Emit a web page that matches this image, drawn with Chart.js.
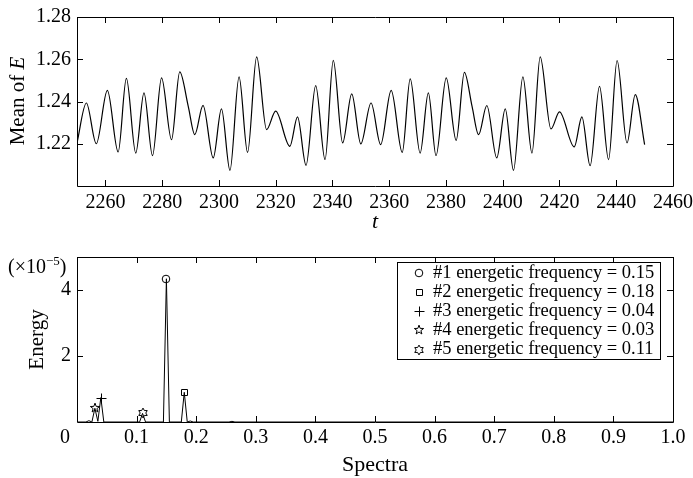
<!DOCTYPE html>
<html>
<head>
<meta charset="utf-8">
<script src="https://cdn.jsdelivr.net/npm/chart.js@4.4.0/dist/chart.umd.min.js"></script>
<style>
  body { margin: 0; background: #fff; }
  #wrap { position: relative; width: 693px; height: 478px; }
  #topChart { position: absolute; left: 0; top: 0; }
  #bottomChart { position: absolute; left: 0; top: 240px; }
</style>
</head>
<body>
<div id="wrap">
  <canvas id="topChart" width="693" height="240"></canvas>
  <canvas id="bottomChart" width="693" height="238"></canvas>
</div>
<script>
'use strict';

// top panel: mean of E over time (peaks / troughs)
let timePts = [2250, 2253.3, 2256.8, 2260.7, 2264.5, 2267.4, 2270.7, 2273.6, 2276.6, 2279.8,
  2283.3, 2286.2, 2289.2, 2291.5, 2294.4, 2298, 2300.9, 2303.9, 2307.1, 2310.1,
  2313.3, 2316.8, 2320, 2325, 2327.7, 2330.7, 2334.1, 2337.4, 2340.3, 2343.6,
  2346.8, 2350, 2353.6, 2357, 2360.7, 2364.6, 2367.4, 2370.9, 2373.8, 2376.5,
  2380.1, 2383.6, 2386.5, 2389.2, 2391.5, 2394.4, 2397.9, 2400.9, 2403.8, 2407.1,
  2410.3, 2413.2, 2417, 2420, 2425.2, 2427.9, 2430.8, 2434.1, 2437.3, 2440.3,
  2443.8, 2446.7, 2450];
let meanE = [1.2204, 1.2393, 1.2200, 1.2453, 1.2161, 1.2509, 1.2156, 1.2441, 1.2144, 1.2512,
  1.2219, 1.2540, 1.2377, 1.2243, 1.2382, 1.2133, 1.2365, 1.2074, 1.2517, 1.2159,
  1.2611, 1.2267, 1.2354, 1.2188, 1.2327, 1.2098, 1.2475, 1.2125, 1.2595, 1.2204,
  1.2436, 1.2199, 1.2393, 1.2196, 1.2453, 1.2159, 1.2507, 1.2156, 1.2441, 1.2144,
  1.2512, 1.2216, 1.2538, 1.2377, 1.2243, 1.2381, 1.2133, 1.2365, 1.2074, 1.2517,
  1.2156, 1.2611, 1.2270, 1.2351, 1.2185, 1.2327, 1.2096, 1.2472, 1.2125, 1.2594,
  1.2204, 1.2433, 1.2196];
let topXTicks = [2260, 2280, 2300, 2320, 2340, 2360, 2380, 2400, 2420, 2440, 2460];
let topYTicks = [1.22, 1.24, 1.26, 1.28];

// bottom panel: energy spectrum (x1e-5)
let specFreq = [0, 0.015, 0.02, 0.025, 0.03, 0.035, 0.04, 0.045, 0.105, 0.11, 0.115,
  0.145, 0.15, 0.155, 0.175, 0.18, 0.185, 0.19, 0.195, 0.255, 0.26, 0.265, 1];
let specEnergy = [0, 0, 0.04, 0, 0.415, 0.02, 0.74, 0, 0, 0.26, 0,
  0, 4.34, 0, 0, 0.9, 0, 0.03, 0, 0, 0.02, 0, 0];
let peakFreq = [0.15, 0.18, 0.04, 0.03, 0.11];
let peakEnergy = [4.34, 0.9, 0.74, 0.415, 0.26];
let peakMarkers = ['circle', 'square', 'plus', 'star5', 'star6'];
let peakLabels = ['#1 energetic frequency = 0.15', '#2 energetic frequency = 0.18',
  '#3 energetic frequency = 0.04', '#4 energetic frequency = 0.03',
  '#5 energetic frequency = 0.11'];
let botXTicks = [0, 0.1, 0.2, 0.3, 0.4, 0.5, 0.6, 0.7, 0.8, 0.9, 1.0];
let botYTicks = [2, 4];

let serif = 'Liberation Serif';
Chart.defaults.font.family = serif;
Chart.defaults.color = '#000';

function makeMarker(kind) {
  let c = document.createElement('canvas');
  c.width = 14;
  c.height = 14;
  let g = c.getContext('2d');
  g.strokeStyle = '#000';
  g.lineWidth = 1;
  g.beginPath();
  if (kind === 'circle') {
    g.arc(7, 7, 3.8, 0, Math.PI * 2);
  } else if (kind === 'square') {
    g.rect(4.5, 4.5, 6, 6);
  } else if (kind === 'plus') {
    g.moveTo(7.5, 2.5); g.lineTo(7.5, 12.5);
    g.moveTo(2.5, 7.5); g.lineTo(12.5, 7.5);
  } else {
    let n = kind === 'star5' ? 5 : 6;
    let inner = kind === 'star5' ? 2 : 2.8;
    for (let i = 0; i < n * 2; i++) {
      let r = i % 2 ? inner : 4.9;
      let a = -Math.PI / 2 + i * Math.PI / n;
      let px = 7 + r * Math.cos(a), py = 7 + r * Math.sin(a);
      if (i === 0) g.moveTo(px, py); else g.lineTo(px, py);
    }
    g.closePath();
  }
  g.stroke();
  return c;
}
let markerImgs = peakMarkers.map(makeMarker);

function noPad(s) {
  s.paddingLeft = 0; s.paddingRight = 0; s.paddingTop = 0; s.paddingBottom = 0;
}

// box + inward ticks on all four sides, like matlab "box on"
function drawFrame(chart, len) {
  let ctx = chart.ctx;
  let a = chart.chartArea;
  let xs = chart.scales.x, ys = chart.scales.y;
  ctx.save();
  ctx.strokeStyle = '#000';
  ctx.lineWidth = 1;
  ctx.beginPath();
  xs.ticks.forEach(function (t) {
    let px = Math.round(xs.getPixelForValue(t.value)) + 0.5;
    ctx.moveTo(px, a.bottom); ctx.lineTo(px, a.bottom - len);
    ctx.moveTo(px, a.top); ctx.lineTo(px, a.top + len);
  });
  ys.ticks.forEach(function (t) {
    let py = Math.round(ys.getPixelForValue(t.value)) + 0.5;
    ctx.moveTo(a.left, py); ctx.lineTo(a.left + len, py);
    ctx.moveTo(a.right, py); ctx.lineTo(a.right - len, py);
  });
  ctx.rect(Math.round(a.left) + 0.5, Math.round(a.top) + 0.5,
    Math.round(a.right - a.left), Math.round(a.bottom - a.top));
  ctx.stroke();
  ctx.restore();
}

let topChart = new Chart(document.getElementById('topChart'), {
  type: 'line',
  data: {
    datasets: [{
      data: timePts.map(function (t, i) { return { x: t, y: meanE[i] }; }),
      borderColor: '#000',
      borderWidth: 1.2,
      pointRadius: 0,
      cubicInterpolationMode: 'monotone',
      fill: false
    }]
  },
  options: {
    responsive: false,
    animation: false,
    devicePixelRatio: 1,
    layout: { padding: { top: 17, right: 20, left: 0, bottom: 0 } },
    plugins: { legend: { display: false }, tooltip: { enabled: false } },
    scales: {
      x: {
        type: 'linear', min: 2250, max: 2460,
        afterBuildTicks: function (s) { s.ticks = topXTicks.map(function (v) { return { value: v }; }); },
        afterFit: function (s) { s.height = 54; noPad(s); },
        grid: { display: false, drawTicks: false },
        border: { display: false },
        ticks: { font: { size: 20 }, padding: 5, maxRotation: 0, autoSkip: false,
          callback: function (v) { return String(v); } },
        title: { display: true, text: 't', font: { size: 22, style: 'italic', lineHeight: 1.2 },
          padding: { top: 0, bottom: 5 } }
      },
      y: {
        min: 1.2, max: 1.28,
        afterBuildTicks: function (s) { s.ticks = topYTicks.map(function (v) { return { value: v }; }); },
        afterFit: function (s) { s.width = 77; noPad(s); },
        grid: { display: false, drawTicks: false },
        border: { display: false },
        ticks: { font: { size: 20 }, padding: 6, callback: function (v) { return v.toFixed(2); } }
      }
    }
  },
  plugins: [{
    id: 'topFrame',
    afterDraw: function (chart) {
      drawFrame(chart, 6);
      let ctx = chart.ctx;
      ctx.save();
      ctx.fillStyle = '#000';
      ctx.translate(18, 101);
      ctx.rotate(-Math.PI / 2);
      ctx.textBaseline = 'middle';
      ctx.font = '21px ' + serif;
      let w1 = ctx.measureText('Mean of ').width;
      ctx.font = 'italic 21px ' + serif;
      let w2 = ctx.measureText('E').width;
      ctx.font = '21px ' + serif;
      ctx.fillText('Mean of ', -(w1 + w2) / 2, 0);
      ctx.font = 'italic 21px ' + serif;
      ctx.fillText('E', -(w1 + w2) / 2 + w1, 0);
      ctx.restore();
    }
  }]
});

let markerSets = peakFreq.map(function (f, i) {
  return {
    data: [{ x: f, y: peakEnergy[i] }],
    showLine: false,
    pointStyle: markerImgs[i],
    pointRadius: 7
  };
});

let bottomChart = new Chart(document.getElementById('bottomChart'), {
  type: 'line',
  data: {
    datasets: [{
      data: specFreq.map(function (f, i) { return { x: f, y: specEnergy[i] }; }),
      borderColor: '#000',
      borderWidth: 1,
      pointRadius: 0,
      tension: 0,
      fill: false
    }].concat(markerSets)
  },
  options: {
    responsive: false,
    animation: false,
    devicePixelRatio: 1,
    layout: { padding: { top: 17, right: 20, left: 0, bottom: 0 } },
    plugins: { legend: { display: false }, tooltip: { enabled: false } },
    scales: {
      x: {
        type: 'linear', min: 0, max: 1,
        afterBuildTicks: function (s) { s.ticks = botXTicks.map(function (v) { return { value: v }; }); },
        afterFit: function (s) { s.height = 56; noPad(s); },
        grid: { display: false, drawTicks: false },
        border: { display: false },
        ticks: { font: { size: 20 }, padding: 4, maxRotation: 0, autoSkip: false,
          callback: function (v) { return v === 0 ? '' : v.toFixed(1); } },
        title: { display: true, text: 'Spectra', font: { size: 22, lineHeight: 1.2 },
          padding: { top: 0, bottom: 0 } }
      },
      y: {
        min: 0, max: 5,
        afterBuildTicks: function (s) { s.ticks = botYTicks.map(function (v) { return { value: v }; }); },
        afterFit: function (s) { s.width = 77; noPad(s); },
        grid: { display: false, drawTicks: false },
        border: { display: false },
        ticks: { font: { size: 20 }, padding: 6, callback: function (v) { return String(v); } },
        title: { display: true, text: 'Energy', font: { size: 21, lineHeight: 1.2 },
          padding: { top: 25, bottom: 0 } }
      }
    }
  },
  plugins: [{
    id: 'bottomFrame',
    beforeDatasetsDraw: function (chart) {
      chart.ctx.imageSmoothingEnabled = false;
    },
    afterDraw: function (chart) {
      drawFrame(chart, 6);
      let ctx = chart.ctx;
      let xs = chart.scales.x;
      ctx.save();
      ctx.fillStyle = '#000';
      // the "0" label sits left of the axis in the original
      ctx.font = '20px ' + serif;
      ctx.textAlign = 'center';
      ctx.textBaseline = 'middle';
      ctx.fillText('0', xs.getPixelForValue(0) - 12, xs.top + 4 + 12);

      // exponent note
      ctx.textAlign = 'left';
      ctx.textBaseline = 'alphabetic';
      let x0 = 8;
      ctx.font = '20px ' + serif;
      ctx.fillText('(\u00d710', x0, 33);
      x0 += ctx.measureText('(\u00d710').width;
      ctx.font = '13px ' + serif;
      ctx.fillText('\u22125', x0, 25);
      x0 += ctx.measureText('\u22125').width;
      ctx.font = '20px ' + serif;
      ctx.fillText(')', x0, 33);

      // legend
      ctx.fillStyle = '#fff';
      ctx.fillRect(397, 22, 264, 98);
      ctx.strokeStyle = '#000';
      ctx.lineWidth = 1;
      ctx.strokeRect(397.5, 22.5, 263, 97);
      ctx.fillStyle = '#000';
      ctx.font = '18.5px ' + serif;
      ctx.textBaseline = 'middle';
      ctx.imageSmoothingEnabled = false;
      peakLabels.forEach(function (lab, i) {
        let ry = 32.7 + i * 19.2;
        ctx.drawImage(markerImgs[i], 419 - 7, Math.round(ry) - 7);
        ctx.fillText(lab, 433, ry);
      });
      ctx.restore();
    }
  }]
});
</script>
</body>
</html>
